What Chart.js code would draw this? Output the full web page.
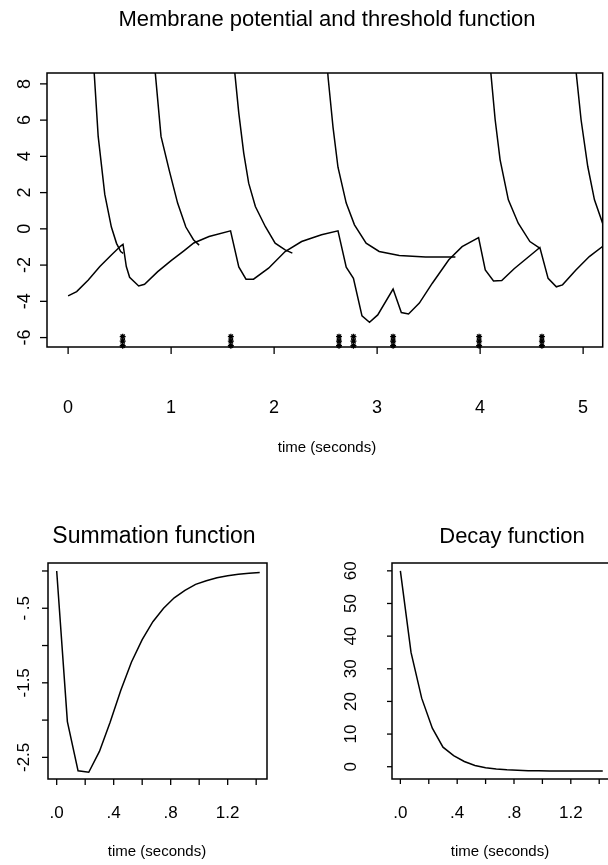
<!DOCTYPE html>
<html>
<head>
<meta charset="utf-8">
<script src="https://cdn.jsdelivr.net/npm/chart.js@4.4.1/dist/chart.umd.min.js"></script>
<style>
html, body { margin: 0; padding: 0; background: #fff; overflow: hidden; width: 608px; height: 865px; }
canvas { position: absolute; }
</style>
</head>
<body>
<canvas id="membrane" width="608" height="470" style="left:0;top:0;width:608px;height:470px"></canvas>
<canvas id="summation" width="304" height="385" style="left:0;top:480px;width:304px;height:385px"></canvas>
<canvas id="decay" width="310" height="385" style="left:310px;top:480px;width:310px;height:385px"></canvas>
<script>
// membrane potential (one continuous trace)
const memT = [0, 0.083, 0.196, 0.308, 0.42, 0.51, 0.533, 0.565, 0.597, 0.685, 0.742, 0.87, 1.0, 1.127, 1.22, 1.368, 1.577,
  1.657, 1.727, 1.80, 1.946, 2.107, 2.267, 2.46, 2.62, 2.70, 2.77, 2.853, 2.926, 3.006, 3.155, 3.235, 3.305, 3.41, 3.536,
  3.696, 3.825, 3.985, 4.05, 4.13, 4.21, 4.33, 4.58, 4.66, 4.74, 4.80, 4.93, 5.06, 5.2];
const memV = [-3.70, -3.46, -2.82, -2.08, -1.44, -0.95, -0.85, -2.08, -2.67, -3.15, -3.06, -2.36, -1.75, -1.2, -0.78, -0.42, -0.11,
  -2.1, -2.78, -2.78, -2.17, -1.25, -0.70, -0.33, -0.11, -2.12, -2.73, -4.8, -5.16, -4.75, -3.32, -4.62, -4.7, -4.1, -3.0,
  -1.71, -0.98, -0.48, -2.27, -2.88, -2.85, -2.2, -1.03, -2.73, -3.2, -3.09, -2.27, -1.53, -0.92];

// threshold function, restarted after firing
const thr1T = [0.22, 0.292, 0.356, 0.42, 0.47, 0.51, 0.535];
const thr1V = [11.6, 5.1, 1.9, 0.1, -0.8, -1.25, -1.35];
const thr2T = [0.80, 0.902, 0.983, 1.063, 1.143, 1.217, 1.272];
const thr2V = [11.5, 5.1, 3.2, 1.42, 0.1, -0.6, -0.9];
const thr3T = [1.58, 1.657, 1.705, 1.753, 1.818, 1.914, 2.01, 2.107, 2.177];
const thr3V = [10.8, 6.39, 4.18, 2.52, 1.23, 0.13, -0.79, -1.16, -1.34];
const thr4T = [2.48, 2.525, 2.572, 2.62, 2.70, 2.78, 2.893, 3.02, 3.215, 3.47, 3.76];
const thr4V = [11.5, 8.3, 5.6, 3.4, 1.42, 0.22, -0.79, -1.25, -1.47, -1.55, -1.55];
const thr5T = [4.07, 4.146, 4.194, 4.274, 4.37, 4.483, 4.575];
const thr5V = [10.7, 6.02, 3.81, 1.6, 0.31, -0.70, -1.05];
const thr6T = [4.90, 4.98, 5.045, 5.11, 5.2, 5.25];
const thr6V = [10.4, 6.02, 3.44, 1.6, 0.13, -0.4];

// spike times (stacked marks near the bottom)
const spikeT = [0.53, 1.58, 2.63, 2.77, 3.155, 3.99, 4.6];
const spikeLevels = [-5.95, -6.2, -6.45];

const topXTicks = [0, 1, 2, 3, 4, 5];
const topXLabels = ['0', '1', '2', '3', '4', '5'];
const topYTicks = [-6, -4, -2, 0, 2, 4, 6, 8];
const topYLabels = ['-6', '-4', '-2', '0', '2', '4', '6', '8'];

// summation and decay functions
const funcT = [0, 0.075, 0.15, 0.225, 0.3, 0.375, 0.45, 0.525, 0.6, 0.675, 0.75, 0.825, 0.9, 0.975,
  1.05, 1.125, 1.2, 1.275, 1.35, 1.425];
const sumV = [0, -2.02, -2.68, -2.70, -2.42, -2.03, -1.60, -1.22, -0.92, -0.68, -0.50, -0.36, -0.26, -0.18,
  -0.13, -0.09, -0.065, -0.045, -0.03, -0.02];
const decayV = [60, 35, 21, 11.8, 6.0, 3.4, 1.6, 0.4, -0.3, -0.7, -0.95, -1.1, -1.2, -1.25,
  -1.28, -1.3, -1.3, -1.3, -1.3, -1.3];

const funcXTicks = [0, 0.2, 0.4, 0.6, 0.8, 1.0, 1.2, 1.4];
const funcXLabels = ['.0', '', '.4', '', '.8', '', '1.2', ''];
const sumYTicks = [0, -0.5, -1, -1.5, -2, -2.5];
const sumYLabels = ['', '- .5', '', '-1.5', '', '-2.5'];
const decayYTicks = [0, 10, 20, 30, 40, 50, 60];
const decayYLabels = ['0', '10', '20', '30', '40', '50', '60'];

const FONT = '"Liberation Sans", Arial, Helvetica, sans-serif';

const pts = (xs, ys) => xs.map((x, i) => ({ x: x, y: ys[i] }));

const lineSet = (xs, ys) => ({
  data: pts(xs, ys),
  borderColor: '#000',
  borderWidth: 1.5,
  pointRadius: 0,
  tension: 0,
  fill: false
});

// R-style box, ticks and labels, placed with the chart's own scales
function rAxes(spec) {
  return {
    id: 'rAxes',
    afterDraw(chart) {
      const ctx = chart.ctx, a = chart.chartArea;
      const xs = chart.scales.x, ys = chart.scales.y;
      ctx.save();
      ctx.strokeStyle = '#000';
      ctx.fillStyle = '#000';
      ctx.lineWidth = 1.5;
      ctx.strokeRect(a.left, a.top, a.right - a.left, a.bottom - a.top);
      ctx.lineWidth = 1.3;
      ctx.font = spec.tickFont;
      ctx.textAlign = 'center';
      ctx.textBaseline = 'middle';
      spec.xTicks.forEach((v, i) => {
        const px = xs.getPixelForValue(v);
        ctx.beginPath();
        ctx.moveTo(px, a.bottom);
        ctx.lineTo(px, a.bottom + spec.tickLen);
        ctx.stroke();
        if (spec.xLabels[i]) ctx.fillText(spec.xLabels[i], px, spec.xLabelY);
      });
      spec.yTicks.forEach((v, i) => {
        const py = ys.getPixelForValue(v);
        ctx.beginPath();
        ctx.moveTo(a.left - spec.tickLen, py);
        ctx.lineTo(a.left, py);
        ctx.stroke();
        if (spec.yLabels[i]) {
          ctx.save();
          ctx.translate(a.left - spec.yLabelOff, py);
          ctx.rotate(-Math.PI / 2);
          ctx.fillText(spec.yLabels[i], 0, 0);
          ctx.restore();
        }
      });
      ctx.font = spec.axisFont;
      ctx.fillText('time (seconds)', spec.xTitleX, spec.xTitleY);
      ctx.font = spec.titleFont;
      ctx.fillText(spec.title, spec.titleX, spec.titleY);
      ctx.restore();
    }
  };
}

const baseOptions = (xmin, xmax, ymin, ymax, pad) => ({
  responsive: false,
  animation: false,
  devicePixelRatio: 1,
  layout: { padding: pad },
  plugins: { legend: { display: false }, tooltip: { enabled: false }, title: { display: false } },
  scales: {
    x: { type: 'linear', min: xmin, max: xmax, display: false },
    y: { type: 'linear', min: ymin, max: ymax, display: false }
  }
});

// top panel
const spikeData = [];
spikeT.forEach(t => spikeLevels.forEach(l => spikeData.push({ x: t, y: l })));

new Chart(document.getElementById('membrane').getContext('2d'), {
  type: 'line',
  data: {
    datasets: [
      lineSet(memT, memV),
      lineSet(thr1T, thr1V),
      lineSet(thr2T, thr2V),
      lineSet(thr3T, thr3V),
      lineSet(thr4T, thr4V),
      lineSet(thr5T, thr5V),
      lineSet(thr6T, thr6V),
      {
        data: spikeData,
        showLine: false,
        pointStyle: 'star',
        pointRadius: 3,
        borderColor: '#000',
        borderWidth: 1.3,
        backgroundColor: '#000',
        clip: false
      }
    ]
  },
  options: baseOptions(-0.205, 5.19, -6.52, 8.6, { left: 47, top: 73, right: 1, bottom: 123 }),
  plugins: [rAxes({
    xTicks: topXTicks, xLabels: topXLabels, yTicks: topYTicks, yLabels: topYLabels,
    tickLen: 7, xLabelY: 408, yLabelOff: 22,
    tickFont: '18px ' + FONT, axisFont: '15px ' + FONT, titleFont: '22px ' + FONT,
    xTitleX: 327, xTitleY: 448,
    title: 'Membrane potential and threshold function', titleX: 327, titleY: 20
  })]
});

// bottom left
new Chart(document.getElementById('summation').getContext('2d'), {
  type: 'line',
  data: { datasets: [lineSet(funcT, sumV)] },
  options: baseOptions(-0.061, 1.476, -2.79, 0.107, { left: 48, top: 83, right: 37, bottom: 86 }),
  plugins: [rAxes({
    xTicks: funcXTicks, xLabels: funcXLabels, yTicks: sumYTicks, yLabels: sumYLabels,
    tickLen: 6, xLabelY: 333, yLabelOff: 24,
    tickFont: '17px ' + FONT, axisFont: '15px ' + FONT, titleFont: '23px ' + FONT,
    xTitleX: 157, xTitleY: 372,
    title: 'Summation function', titleX: 154, titleY: 57
  })]
});

// bottom right
new Chart(document.getElementById('decay').getContext('2d'), {
  type: 'line',
  data: { datasets: [lineSet(funcT, decayV)] },
  options: baseOptions(-0.059, 1.476, -3.76, 62.4, { left: 82, top: 83, right: 10, bottom: 86 }),
  plugins: [rAxes({
    xTicks: funcXTicks, xLabels: funcXLabels, yTicks: decayYTicks, yLabels: decayYLabels,
    tickLen: 5, xLabelY: 333, yLabelOff: 41,
    tickFont: '17px ' + FONT, axisFont: '15px ' + FONT, titleFont: '22px ' + FONT,
    xTitleX: 190, xTitleY: 372,
    title: 'Decay function', titleX: 202, titleY: 57
  })]
});
</script>
</body>
</html>
